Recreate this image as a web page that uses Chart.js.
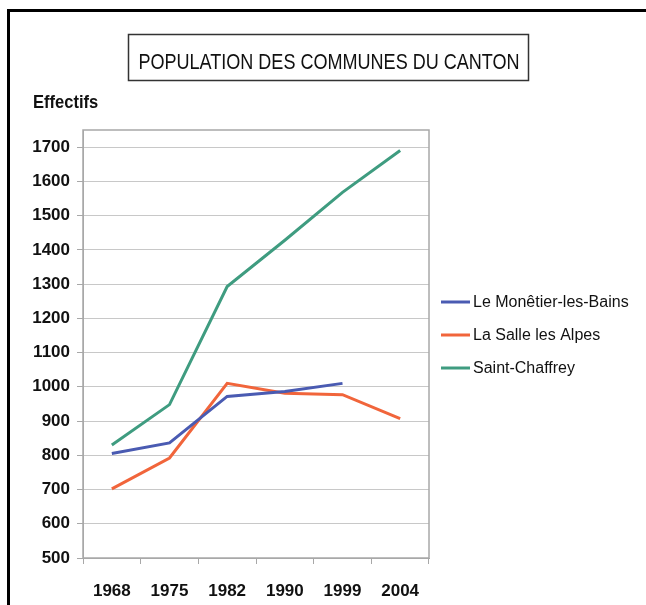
<!DOCTYPE html>
<html>
<head>
<meta charset="utf-8">
<script src="https://cdn.jsdelivr.net/npm/chart.js@4/dist/chart.umd.min.js"></script>
<style>
  html, body { margin:0; padding:0; background:#fff; }
  #wrap { position:relative; width:646px; height:605px; }
</style>
</head>
<body>
<div id="wrap"><canvas id="popChart"></canvas></div>
<script>
const TITLE = 'POPULATION DES COMMUNES DU CANTON';
const Y_TITLE = 'Effectifs';
const years = ['1968','1975','1982','1990','1999','2004'];
const monetier = [805, 836, 972, 986, 1010, null];
const salle = [702, 792, 1010, 981, 977, 907];
const chaffrey = [830, 948, 1293, 1428, 1568, 1690];

const SANS = '"Liberation Sans", Arial, sans-serif';

// text squeezed sideways, like the narrow font of the original
function narrowText(ctx, text, x, y, sx){
  ctx.save();
  ctx.translate(x, y);
  ctx.scale(sx, 1);
  ctx.fillText(text, 0, 0);
  ctx.restore();
}

// outer frame, boxed title, "Effectifs", plot border and the legend on the right
const decor = {
  id: 'decor',
  beforeDraw(chart){
    const ctx = chart.ctx;
    ctx.save();
    ctx.fillStyle = '#fff';
    ctx.fillRect(0, 0, chart.width, chart.height);
    ctx.strokeStyle = '#000';
    ctx.lineWidth = 3;
    ctx.beginPath();
    ctx.moveTo(8.5, chart.height + 5);
    ctx.lineTo(8.5, 10.5);
    ctx.lineTo(chart.width + 5, 10.5);
    ctx.stroke();

    ctx.strokeStyle = '#333';
    ctx.lineWidth = 1.5;
    ctx.strokeRect(128.5, 34.5, 400, 46);
    ctx.fillStyle = '#111';
    ctx.font = '22px ' + SANS;
    ctx.textAlign = 'center';
    ctx.textBaseline = 'alphabetic';
    narrowText(ctx, TITLE, 329, 69, 0.82);

    ctx.font = 'bold 19px ' + SANS;
    ctx.textAlign = 'left';
    narrowText(ctx, Y_TITLE, 33, 108, 0.87);
    ctx.restore();
  },
  beforeDatasetsDraw(chart){
    const {ctx, chartArea:a} = chart;
    ctx.save();
    ctx.strokeStyle = '#a8a8a8';
    ctx.lineWidth = 1.5;
    ctx.strokeRect(a.left, a.top, a.right - a.left, a.bottom - a.top);
    ctx.restore();
  },
  afterDraw(chart){
    const ctx = chart.ctx;
    ctx.save();
    ctx.font = '16px ' + SANS;
    ctx.textAlign = 'left';
    ctx.textBaseline = 'middle';
    chart.data.datasets.forEach((ds, i) => {
      const y = 302 + i * 33;
      ctx.strokeStyle = ds.borderColor;
      ctx.lineWidth = 3;
      ctx.beginPath();
      ctx.moveTo(441, y);
      ctx.lineTo(470, y);
      ctx.stroke();
      ctx.fillStyle = '#111';
      ctx.fillText(ds.label, 473, y + 1);
    });
    ctx.restore();
  }
};

const line = (label, data, color) => ({
  label, data, borderColor: color, backgroundColor: color,
  borderWidth: 3, pointRadius: 0, tension: 0, spanGaps: false
});

new Chart(document.getElementById('popChart'), {
  type: 'line',
  data: {
    labels: years,
    datasets: [
      line('Le Monêtier-les-Bains', monetier, '#4a5bb2'),
      line('La Salle les Alpes', salle, '#f1653b'),
      line('Saint-Chaffrey', chaffrey, '#3f9c80')
    ]
  },
  options: {
    responsive: true,
    maintainAspectRatio: false,
    animation: false,
    layout: { padding: { top: 130, left: 20, right: 217, bottom: 4 } },
    plugins: {
      title: { display: false },
      tooltip: { enabled: false },
      legend: { display: false }
    },
    scales: {
      x: {
        offset: true,
        grid: { offset: true, drawOnChartArea: false, tickLength: 6, tickColor: '#a8a8a8' },
        border: { color: '#a8a8a8' },
        ticks: { padding: 17, color: '#111', font: { family: SANS, size: 17, weight: 'bold' } },
        afterFit: s => { s.height = 43; }
      },
      y: {
        min: 500,
        max: 1750,
        grid: { color: '#c8c8c8', tickLength: 6, tickColor: '#a8a8a8' },
        border: { color: '#a8a8a8' },
        ticks: {
          stepSize: 50,
          padding: 7,
          color: '#111',
          font: { family: SANS, size: 17, weight: 'bold' },
          callback: v => (v % 100 === 0 ? v : '')
        },
        afterFit: s => { s.width = 63; }
      }
    }
  },
  plugins: [decor]
});
</script>
</body>
</html>
